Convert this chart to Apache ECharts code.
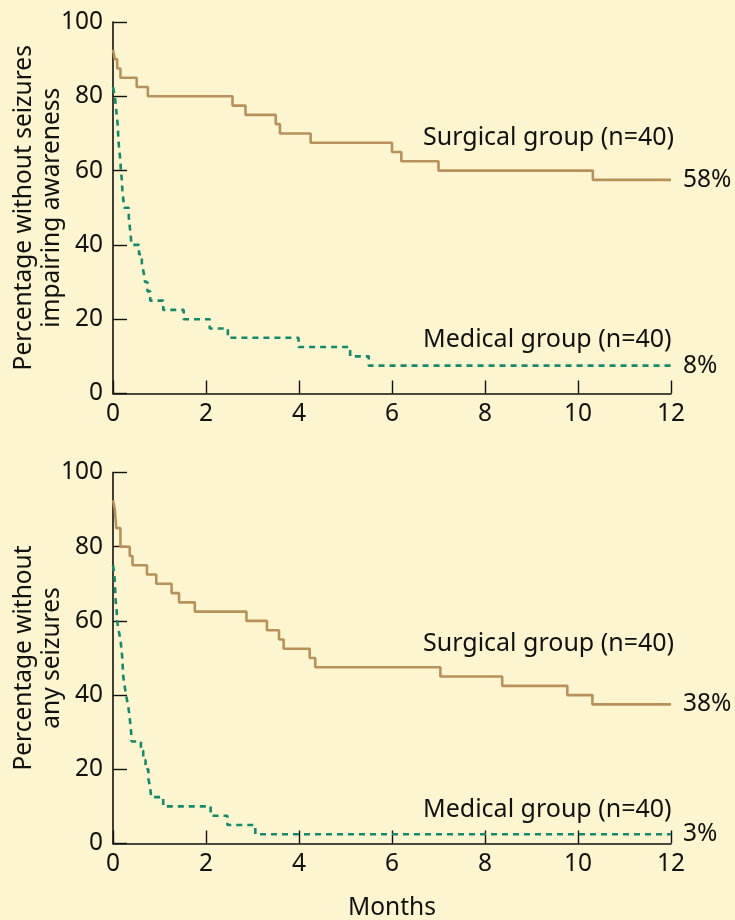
<!DOCTYPE html>
<html><head><meta charset="utf-8">
<script src="https://cdn.jsdelivr.net/npm/echarts@6/dist/echarts.min.js"></script>
<style>html,body{margin:0;padding:0;background:#fdf5cf}#c{width:735px;height:920px}</style>
</head><body><div id="c"></div>
<script>
// Months (x) and percentage (y) — Kaplan–Meier style step data
const xTicks = [0, 2, 4, 6, 8, 10, 12];
const yTicks = [0, 20, 40, 60, 80, 100];

const surgicalAwareness = [[0,92.5],[0.04,90],[0.09,87.5],[0.16,85],[0.51,82.5],[0.75,80],[2.57,77.5],[2.85,75],[3.5,72.5],[3.59,70],[4.25,67.5],[6.0,65],[6.2,62.5],[7.0,60],[10.32,57.5],[12,57.5]];
const medicalAwareness = [[0,82.5],[0.04,80],[0.06,77.5],[0.08,75],[0.1,72.5],[0.11,70],[0.12,67.5],[0.14,65],[0.16,62.5],[0.17,60],[0.19,57.5],[0.2,55],[0.22,52.5],[0.24,50],[0.34,47.5],[0.36,45],[0.38,42.5],[0.4,40],[0.56,37.5],[0.62,35],[0.66,32.5],[0.69,30],[0.74,27.5],[0.8,25],[1.08,22.5],[1.52,20],[2.08,17.5],[2.47,15],[3.99,12.5],[5.1,10],[5.5,7.5],[12,7.5]];
const surgicalAny = [[0,92.5],[0.04,90],[0.07,85],[0.16,80],[0.36,77.5],[0.42,75],[0.73,72.5],[0.93,70],[1.26,67.5],[1.42,65],[1.76,62.5],[2.87,60],[3.31,57.5],[3.57,55],[3.67,52.5],[4.23,50],[4.35,47.5],[7.04,45],[8.37,42.5],[9.77,40],[10.31,37.5],[12,37.5]];
const medicalAny = [[0,75],[0.03,72.5],[0.04,70],[0.05,67.5],[0.06,65],[0.08,62.5],[0.09,60],[0.12,57.5],[0.16,55],[0.18,52.5],[0.2,50],[0.21,47.5],[0.22,45],[0.25,42.5],[0.28,40],[0.32,37.5],[0.35,35],[0.37,32.5],[0.39,30],[0.4,27.5],[0.6,25],[0.65,22.5],[0.7,20],[0.76,17.5],[0.8,15],[0.82,12.5],[1.08,10],[2.1,7.5],[2.46,5],[3.06,2.5],[12,2.5]];

const endLabels = ['58%', '8%', '38%', '3%'];
const groupLabels = ['Surgical group (n=40)', 'Medical group (n=40)'];
const yNames = ['Percentage without seizures\nimpairing awareness', 'Percentage without\nany seizures'];
const xName = 'Months';

const FONT = '"Noto Sans", "Open Sans", sans-serif';
const FS = 24.5;
const INK = '#111';
const SURG = '#b8915a';
const MED = '#138a6b';

function xAxis(gi, withName) {
  return {
    type: 'value', gridIndex: gi, min: 0, max: 12, interval: 2,
    axisLine: { show: true, onZero: false, lineStyle: { color: INK, width: 1.6 } },
    axisTick: { show: true, inside: true, length: 13, lineStyle: { color: INK, width: 1.4 } },
    axisLabel: { color: INK, fontSize: FS, fontFamily: FONT, margin: 8 },
    splitLine: { show: false },
    name: withName ? xName : '', nameLocation: 'middle', nameGap: 52, nameMoveOverlap: false,
    nameTextStyle: { color: INK, fontSize: FS, fontFamily: FONT }
  };
}
function yAxis(gi, name) {
  return {
    type: 'value', gridIndex: gi, min: 0, max: 100, interval: 20,
    axisLine: { show: true, lineStyle: { color: INK, width: 1.6 } },
    axisTick: { show: true, inside: true, length: 14, lineStyle: { color: INK, width: 1.4 } },
    axisLabel: { color: INK, fontSize: FS, fontFamily: FONT, margin: 10 },
    splitLine: { show: false },
    name: name, nameLocation: 'middle', nameGap: 47, nameRotate: 90, nameMoveOverlap: false,
    nameTextStyle: { color: INK, fontSize: FS, fontFamily: FONT, lineHeight: 28, align: 'center' }
  };
}
function series(data, gi, color, dashed, label) {
  return {
    type: 'line', xAxisIndex: gi, yAxisIndex: gi, data: data, step: 'end',
    symbol: 'none', silent: true, animation: false,
    lineStyle: { color: color, width: 2.6, type: dashed ? [6, 5] : 'solid' },
    endLabel: { show: true, formatter: label, distance: 12, color: INK, fontSize: FS, fontFamily: FONT }
  };
}
function txt(s, x, y) {
  return { type: 'text', left: x, top: y, style: { text: s, fill: INK, fontSize: 25, fontFamily: FONT } };
}

const chart = echarts.init(document.getElementById('c'), null, { renderer: 'canvas' });
chart.setOption({
  backgroundColor: '#fdf5cf',
  animation: false,
  grid: [
    { left: 113, right: 64, top: 22, height: 371.5, containLabel: false, outerBoundsMode: 'none' },
    { left: 113, right: 64, top: 472.5, height: 371, containLabel: false, outerBoundsMode: 'none' }
  ],
  xAxis: [xAxis(0, false), xAxis(1, true)],
  yAxis: [yAxis(0, yNames[0]), yAxis(1, yNames[1])],
  series: [
    series(surgicalAwareness, 0, SURG, false, endLabels[0]),
    series(medicalAwareness, 0, MED, true, endLabels[1]),
    series(surgicalAny, 1, SURG, false, endLabels[2]),
    series(medicalAny, 1, MED, true, endLabels[3])
  ],
  graphic: [
    txt(groupLabels[0], 423, 125),
    txt(groupLabels[1], 423, 327),
    txt(groupLabels[0], 423, 631),
    txt(groupLabels[1], 423, 797)
  ]
});
</script></body></html>
